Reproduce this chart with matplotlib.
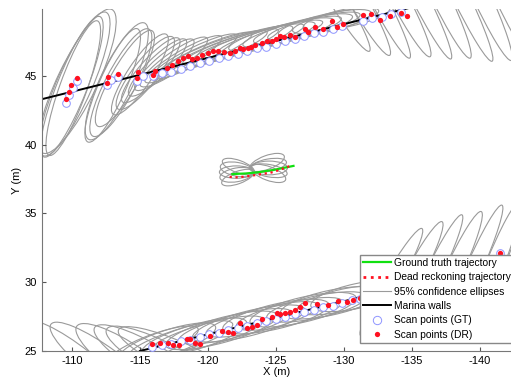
import matplotlib
matplotlib.use("Agg")
import matplotlib.pyplot as plt
from matplotlib.patches import Ellipse
from matplotlib.lines import Line2D

plt.rcParams["font.family"] = ["Liberation Sans", "DejaVu Sans"]
plt.rcParams["axes.unicode_minus"] = False

# ground truth and dead reckoning trajectories (centre of the marina)
gt_traj_x = [-121.8, -122.3, -122.8, -123.3, -123.8, -124.3, -124.8, -125.3, -125.8, -126.3]
gt_traj_y = [37.85, 37.88, 37.9, 37.95, 38.0, 38.08, 38.15, 38.25, 38.35, 38.45]
dr_traj_x = [-121.6, -122.1, -122.6, -123.1, -123.6, -124.1, -124.6, -125.1, -125.6, -126.2]
dr_traj_y = [37.65, 37.62, 37.66, 37.72, 37.8, 37.88, 37.95, 38.1, 38.28, 38.5]

# marina walls
wall_top_x = [-107.8, -136.0]
wall_top_y = [43.3, 50.22]
wall_bot_x = [-115.0, -137.0]
wall_bot_y = [25.0, 30.3]

# scan points, dead reckoning
dr_x = [-109.56, -109.78, -109.93, -110.37, -112.57, -112.65, -113.4, -114.8, -114.85,
        -115.96, -116.1, -116.99, -117.35, -117.79, -118.16, -118.53, -118.8, -119.19,
        -119.6, -120.0, -120.37, -120.74, -121.2, -121.62, -121.99, -122.35, -122.6,
        -122.94, -123.2, -123.46, -123.97, -124.34, -124.71, -125.0, -125.29, -125.6,
        -126.03, -126.4, -127.13, -127.35, -127.87, -128.46, -129.12, -129.49, -129.93,
        -131.4, -131.99, -132.65, -133.38, -134.19, -134.63,
        -115.9, -116.5, -117.1, -117.4, -117.9, -118.5, -118.68, -119.04, -119.41,
        -120.15, -121.03, -121.47, -121.84, -122.35, -122.87, -123.24, -123.6, -123.97,
        -124.71, -125.07, -125.29, -125.66, -126.03, -126.4, -126.76, -127.13, -128.01,
        -128.82, -129.56, -130.22, -130.66, -131.18, -141.5]
dr_y = [43.33, 43.84, 44.35, 44.85, 44.5, 44.93, 45.15, 44.85, 45.3,
        45.07, 45.36, 45.58, 45.8, 46.09, 46.31, 46.45, 46.2, 46.31,
        46.5, 46.67, 46.82, 46.82, 46.75, 46.67, 46.82, 47.03, 46.95,
        47.03, 47.1, 47.25, 47.4, 47.54, 47.54, 47.7, 47.91, 47.85,
        47.98, 47.83, 48.42, 48.2, 48.56, 48.42, 49.0, 48.56, 48.78,
        49.43, 49.5, 49.07, 49.36, 49.58, 49.36,
        25.5, 25.6, 25.6, 25.4, 25.4, 25.9, 25.87, 25.58, 25.51,
        26.09, 26.45, 26.38, 26.31, 27.03, 26.67, 26.74, 26.89, 27.33,
        27.47, 27.76, 27.69, 27.76, 27.83, 27.98, 28.2, 28.49, 28.42,
        28.34, 28.63, 28.56, 28.71, 28.85, 32.1]

# scan points, ground truth
gt_x = [-109.56, -109.8, -110.1, -110.4, -112.6, -112.9, -113.4, -114.8, -115.2,
        -116.0, -116.6, -117.3, -118.0, -118.7, -119.4, -120.1, -120.8, -121.5,
        -122.2, -122.9, -123.6, -124.3, -125.0, -125.7, -126.4, -127.1, -127.8,
        -128.5, -129.2, -129.9, -131.4, -132.1, -132.8, -133.5, -134.2,
        -115.9, -116.6, -117.3, -118.0, -118.7, -119.4, -120.1, -120.8, -121.5,
        -122.2, -122.9, -123.6, -124.3, -125.0, -125.7, -126.4, -127.1, -127.8,
        -128.5, -129.2, -129.9, -130.6, -131.2, -141.5]
gt_y = [43.0, 43.6, 44.1, 44.6, 44.3, 44.7, 44.9, 44.6, 45.0,
        45.0, 45.2, 45.3, 45.5, 45.7, 45.9, 46.1, 46.3, 46.4,
        46.6, 46.8, 47.0, 47.1, 47.3, 47.5, 47.7, 47.9, 48.1,
        48.2, 48.4, 48.6, 49.0, 49.2, 49.3, 49.5, 49.6,
        25.3, 25.4, 25.5, 25.7, 25.8, 26.0, 26.2, 26.3, 26.5,
        26.7, 26.8, 27.0, 27.2, 27.3, 27.5, 27.7, 27.8, 28.0,
        28.2, 28.3, 28.5, 28.7, 28.8, 32.1]

# 95% confidence ellipses: centre x, centre y, width, height, angle (deg)
ell_x = [-110.0, -110.2, -110.4, -110.1, -113.0, -113.3, -113.6, -113.9,
         -115.0, -115.4, -115.8, -116.3, -116.8,
         -117.5, -118.2, -119.0, -119.8, -120.6, -121.4, -122.2, -123.0, -123.8,
         -124.6, -125.4, -126.2, -127.0, -127.8, -128.6, -129.4, -130.2,
         -129.5, -131.0, -132.5, -134.0, -135.5, -137.0, -138.5, -140.0, -141.5, -143.0,
         -110.5, -112.5, -114.5, -116.0, -117.0, -118.0,
         -116.0, -117.0, -118.0, -119.0, -120.0, -121.0, -122.0, -123.0, -124.0,
         -125.0, -126.0, -127.0, -128.0, -129.0, -130.0, -131.0,
         -133.5, -135.0, -136.5, -138.0, -139.5, -141.0, -142.5,
         -122.2, -122.12, -122.1, -122.15, -122.25,
         -124.35, -124.45, -124.5, -124.5, -124.45]
ell_y = [44.2, 44.4, 44.6, 44.1, 44.3, 44.6, 44.5, 44.8,
         45.1, 45.2, 45.4, 45.6, 45.8,
         46.0, 46.2, 46.4, 46.6, 46.8, 47.0, 47.2, 47.4, 47.6,
         47.8, 48.0, 48.2, 48.4, 48.6, 48.8, 49.0, 49.2,
         50.6, 50.6, 50.7, 50.8, 50.9, 51.0, 51.0, 51.1, 51.2, 51.3,
         24.0, 24.0, 24.0, 24.2, 24.3, 24.5,
         25.4, 25.6, 25.8, 26.0, 26.2, 26.5, 26.8, 27.0, 27.3,
         27.5, 27.7, 28.0, 28.2, 28.5, 28.7, 29.0,
         30.0, 30.2, 30.4, 30.6, 30.8, 31.0, 31.2,
         37.6, 37.8, 38.0, 38.2, 38.4,
         38.7, 38.5, 38.3, 38.1, 37.9]
ell_w = [11.0, 11.4, 11.6, 10.4, 9.0, 9.4, 8.8, 8.0,
         7.0, 6.6, 6.2, 5.8, 5.6,
         6.0, 6.5, 7.0, 7.5, 8.0, 8.0, 8.5, 8.5, 8.5,
         8.0, 8.0, 7.5, 7.5, 7.0, 7.0, 6.5, 6.5,
         9.0, 9.5, 10.0, 10.0, 10.5, 10.5, 11.0, 11.0, 11.0, 11.0,
         10.0, 10.0, 10.0, 10.0, 10.0, 10.0,
         7.0, 7.5, 8.0, 8.0, 8.5, 8.5, 8.5, 8.5, 8.5,
         8.0, 8.0, 8.0, 7.5, 7.5, 7.0, 7.0,
         9.0, 9.5, 10.0, 10.0, 10.5, 10.5, 10.5,
         2.5, 2.5, 2.5, 2.5, 2.5,
         2.7, 2.7, 2.7, 2.7, 2.7]
ell_h = [2.2, 2.6, 2.9, 2.0, 2.0, 2.4, 2.2, 2.0,
         1.8, 1.8, 1.6, 1.5, 1.4,
         1.4, 1.3, 1.3, 1.2, 1.3, 1.2, 1.3, 1.2, 1.3,
         1.2, 1.3, 1.2, 1.3, 1.2, 1.3, 1.2, 1.3,
         1.2, 1.3, 1.2, 1.3, 1.2, 1.3, 1.2, 1.3, 1.2, 1.3,
         2.4, 2.4, 2.6, 2.4, 2.4, 2.2,
         1.6, 1.8, 1.6, 1.8, 1.6, 1.8, 1.6, 1.8, 1.6,
         1.8, 1.6, 1.8, 1.6, 1.8, 1.6, 1.8,
         1.2, 1.3, 1.2, 1.3, 1.2, 1.3, 1.2,
         0.9, 1.0, 0.9, 1.0, 0.9,
         1.0, 0.9, 1.0, 0.9, 1.0]
ell_ang = [112, 114, 116, 110, 114, 116, 118, 120,
           124, 128, 132, 136, 140,
           145, 150, 154, 157, 160, 161, 162, 163, 164,
           164, 165, 165, 166, 166, 167, 167, 168,
           58, 60, 62, 62, 63, 64, 64, 65, 65, 66,
           38, 36, 34, 30, 27, 24,
           160, 162, 163, 164, 165, 165, 166, 166, 166,
           167, 167, 167, 168, 168, 168, 168,
           120, 118, 116, 115, 114, 112, 110,
           -20, -10, 0, 10, 20,
           160, 170, 180, 190, 200]

x_ticks = [-110, -115, -120, -125, -130, -135, -140]
y_ticks = [25, 30, 35, 40, 45]

fig = plt.figure(figsize=(5.11, 3.80), dpi=100)
ax = fig.add_axes([42 / 511, 29 / 380, 1 - 42 / 511, 342 / 380])

for cx, cy, w, h, a in zip(ell_x, ell_y, ell_w, ell_h, ell_ang):
    ax.add_patch(Ellipse((cx, cy), w, h, angle=a, fill=False,
                         edgecolor="#9a9a9a", linewidth=0.8, zorder=1))

ax.plot(wall_top_x, wall_top_y, color="black", linewidth=1.4, zorder=2)
ax.plot(wall_bot_x, wall_bot_y, color="black", linewidth=1.4, zorder=2)
ax.plot(gt_x, gt_y, linestyle="none", marker="o", markersize=5.5,
        markerfacecolor="white", markeredgecolor="#8f95ff", markeredgewidth=0.7, zorder=3)
ax.plot(dr_x, dr_y, linestyle="none", marker="o", markersize=3.8,
        color="#ff1020", markeredgewidth=0, zorder=4)
ax.plot(gt_traj_x, gt_traj_y, color="#10e010", linewidth=1.6, zorder=5)
ax.plot(dr_traj_x, dr_traj_y, color="#ff1020", linewidth=1.6, linestyle=":", zorder=6)

ax.set_xlim(-107.8, -142.3)
ax.set_ylim(25, 49.85)
ax.set_xticks(x_ticks)
ax.set_yticks(y_ticks)
ax.tick_params(direction="in", length=3, labelsize=8, color="#555555")
ax.spines["top"].set_visible(False)
ax.spines["right"].set_visible(False)
ax.spines["left"].set_color("#777777")
ax.spines["bottom"].set_color("#777777")
ax.set_xlabel("X (m)", fontsize=8, labelpad=1)
ax.set_ylabel("Y (m)", fontsize=8, labelpad=2)

handles = [
    Line2D([], [], color="#10e010", linewidth=1.6),
    Line2D([], [], color="#ff1020", linewidth=2.0, linestyle=":"),
    Line2D([], [], color="#9a9a9a", linewidth=0.8),
    Line2D([], [], color="black", linewidth=1.4),
    Line2D([], [], linestyle="none", marker="o", markersize=6, markerfacecolor="white",
           markeredgecolor="#8f95ff", markeredgewidth=0.7),
    Line2D([], [], linestyle="none", marker="o", markersize=3.8, color="#ff1020",
           markeredgewidth=0),
]
labels = ["Ground truth trajectory", "Dead reckoning trajectory", "95% confidence ellipses",
          "Marina walls", "Scan points (GT)", "Scan points (DR)"]
leg = ax.legend(handles, labels, loc="upper left", bbox_to_anchor=(360 / 511, 1 - 255 / 380),
                bbox_transform=fig.transFigure, fontsize=7.4, frameon=True, fancybox=False,
                framealpha=1, edgecolor="#888888", handlelength=2.7, handletextpad=0.3,
                labelspacing=0.42, borderpad=0.3, borderaxespad=0)
leg.set_zorder(10)

fig.savefig("out.png", dpi=100)
